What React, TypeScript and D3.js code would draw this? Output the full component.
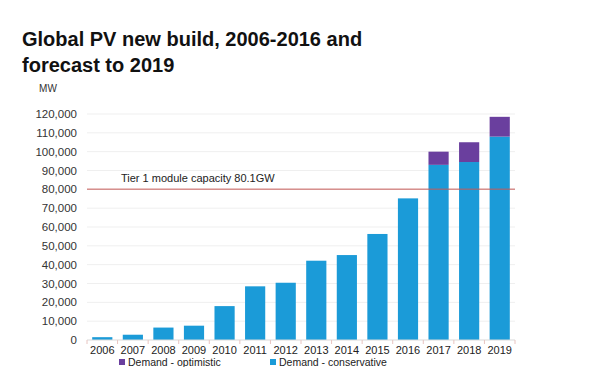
import { useRef, useEffect } from 'react'
import * as d3 from 'd3'

const years = ['2006', '2007', '2008', '2009', '2010', '2011', '2012', '2013', '2014', '2015', '2016', '2017', '2018', '2019']
const conservative = [1500, 2800, 6600, 7600, 18000, 28500, 30400, 42100, 45100, 56300, 75200, 93000, 94500, 108000]
const optimistic = [0, 0, 0, 0, 0, 0, 0, 0, 0, 0, 0, 7000, 10500, 10500]
const yTicks = [0, 10000, 20000, 30000, 40000, 50000, 60000, 70000, 80000, 90000, 100000, 110000, 120000]
const tier1 = 80100

const BLUE = '#1b9bd8'
const PURPLE = '#6a3f9e'

const App = () => {
  const ref = useRef(null)

  useEffect(() => {
    const svg = d3.select(ref.current)
    svg.selectAll('*').remove()

    const left = 87, right = 515, top = 114, bottom = 340

    const x = d3.scaleBand().domain(years).range([left, right]).paddingInner(0.34).paddingOuter(0.17)
    const y = d3.scaleLinear().domain([0, 120000]).range([bottom, top])

    // TITLE
    const title = svg.append('g')
      .attr('font-family', 'Liberation Sans, Arial, sans-serif')
      .attr('font-weight', 'bold')
      .attr('font-size', 20)
      .attr('fill', '#111')
    title.append('text').attr('x', 22).attr('y', 46).text('Global PV new build, 2006-2016 and')
    title.append('text').attr('x', 22).attr('y', 72).text('forecast to 2019')

    svg.append('text')
      .attr('x', 48).attr('y', 92)
      .attr('text-anchor', 'middle')
      .attr('font-family', 'Liberation Sans, Arial, sans-serif')
      .attr('font-size', 10)
      .attr('fill', '#333')
      .text('MW')

    // GRID
    svg.append('g').selectAll('line')
      .data(yTicks.filter(d => d > 0))
      .enter()
      .append('line')
        .attr('x1', left).attr('x2', right)
        .attr('y1', d => y(d)).attr('y2', d => y(d))
        .attr('stroke', '#efefef')

    // Y AXIS LABELS
    svg.append('g').selectAll('text')
      .data(yTicks)
      .enter()
      .append('text')
        .attr('x', 77)
        .attr('y', d => y(d) + 4)
        .attr('text-anchor', 'end')
        .attr('font-family', 'Liberation Sans, Arial, sans-serif')
        .attr('font-size', 11.5)
        .attr('fill', '#333')
        .text(d => d3.format(',')(d))

    // BARS
    const bars = svg.append('g')
    bars.selectAll('rect.c')
      .data(years)
      .enter()
      .append('rect')
        .attr('class', 'c')
        .attr('x', d => x(d))
        .attr('width', x.bandwidth())
        .attr('y', (d, i) => y(conservative[i]))
        .attr('height', (d, i) => y(0) - y(conservative[i]))
        .attr('fill', BLUE)
    bars.selectAll('rect.o')
      .data(years.filter((d, i) => optimistic[i] > 0))
      .enter()
      .append('rect')
        .attr('class', 'o')
        .attr('x', d => x(d))
        .attr('width', x.bandwidth())
        .attr('y', d => {
          const i = years.indexOf(d)
          return y(conservative[i] + optimistic[i])
        })
        .attr('height', d => {
          const i = years.indexOf(d)
          return y(conservative[i]) - y(conservative[i] + optimistic[i])
        })
        .attr('fill', PURPLE)

    // X AXIS
    svg.append('line')
      .attr('x1', left).attr('x2', right)
      .attr('y1', bottom).attr('y2', bottom)
      .attr('stroke', '#d9d9d9')
    const step = x.step()
    svg.append('g').selectAll('line')
      .data(d3.range(years.length + 1))
      .enter()
      .append('line')
        .attr('x1', i => left + i * step).attr('x2', i => left + i * step)
        .attr('y1', bottom).attr('y2', bottom + 4)
        .attr('stroke', '#e8c4c0')
    svg.append('g').selectAll('text')
      .data(years)
      .enter()
      .append('text')
        .attr('x', d => x(d) + x.bandwidth() / 2)
        .attr('y', 354)
        .attr('text-anchor', 'middle')
        .attr('font-family', 'Liberation Sans, Arial, sans-serif')
        .attr('font-size', 11)
        .attr('fill', '#222')
        .text(d => d)

    // TIER 1 LINE
    svg.append('line')
      .attr('x1', left).attr('x2', right)
      .attr('y1', y(tier1)).attr('y2', y(tier1))
      .attr('stroke', '#c65a58')
      .attr('stroke-width', 1)
    svg.append('text')
      .attr('x', 121).attr('y', y(tier1) - 7)
      .attr('font-family', 'Liberation Sans, Arial, sans-serif')
      .attr('font-size', 11)
      .attr('fill', '#222')
      .text('Tier 1 module capacity 80.1GW')

    // LEGEND
    const legend = [
      { label: 'Demand - optimistic', color: PURPLE, x: 119 },
      { label: 'Demand - conservative', color: BLUE, x: 270 }
    ]
    const lg = svg.append('g').selectAll('g')
      .data(legend)
      .enter()
      .append('g')
    lg.append('rect')
      .attr('x', d => d.x).attr('y', 359)
      .attr('width', 6).attr('height', 6)
      .attr('fill', d => d.color)
    lg.append('text')
      .attr('x', d => d.x + 9).attr('y', 366)
      .attr('font-family', 'Liberation Sans, Arial, sans-serif')
      .attr('font-size', 10.5)
      .attr('fill', '#222')
      .text(d => d.label)
  }, [])

  return (
    <svg ref={ ref } width={ 600 } height={ 367 }
      style={ { position: 'absolute', left: 0, top: 0, background: '#fff' } }></svg>
  )
}

export default App
